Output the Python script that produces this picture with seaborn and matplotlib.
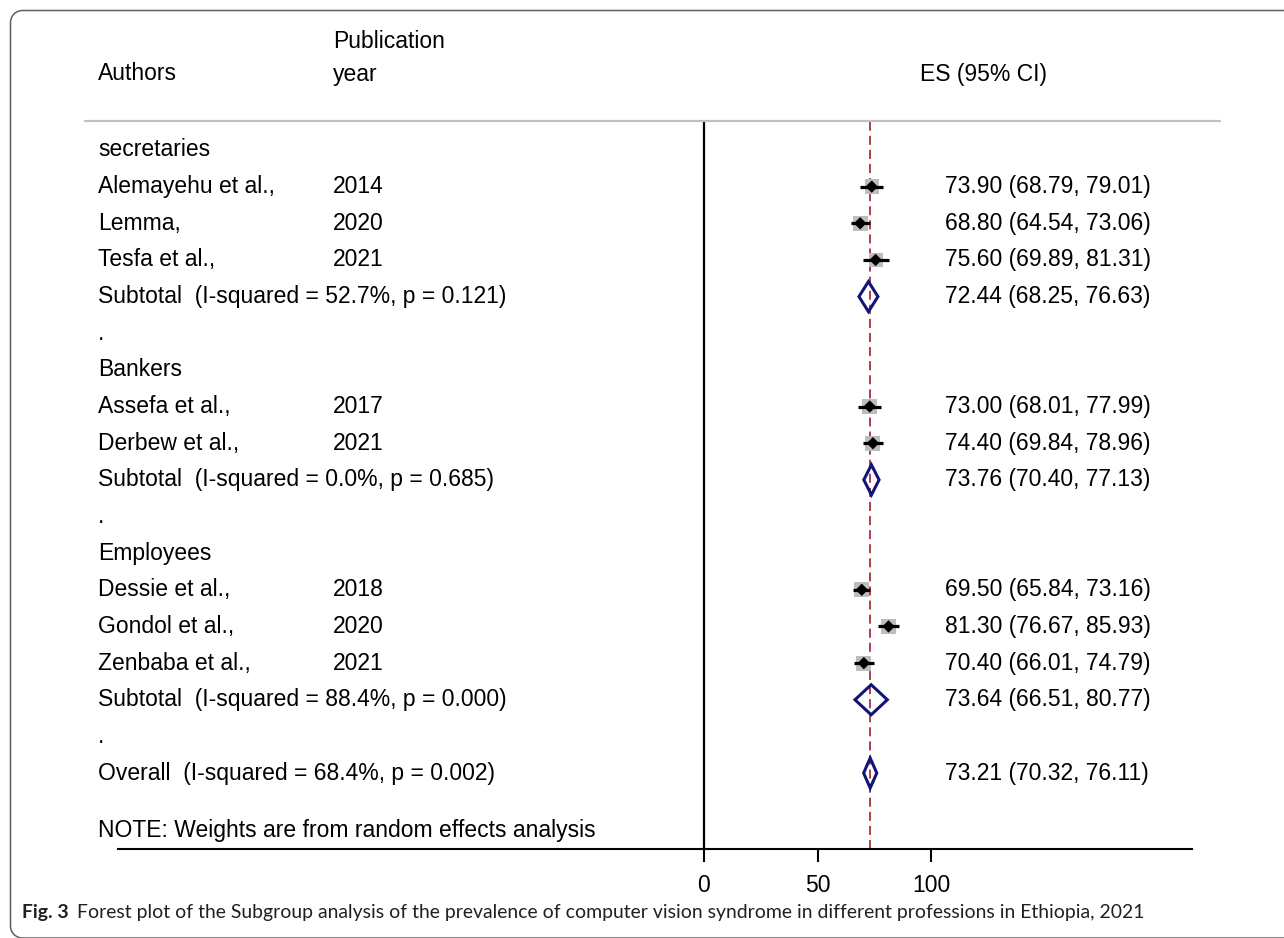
import numpy as np
import pandas as pd
import matplotlib
matplotlib.use("Agg")
import matplotlib.pyplot as plt
import matplotlib.transforms as mtransforms
from matplotlib.patches import Polygon, PathPatch
from matplotlib.path import Path
from matplotlib.lines import Line2D
import seaborn as sns

# ---- data ---------------------------------------------------------------
groups = ["secretaries", "Bankers", "Employees"]
study_group = [0, 0, 0, 1, 1, 2, 2, 2]
authors = ["Alemayehu et al.,", "Lemma,", "Tesfa et al.,",
           "Assefa et al.,", "Derbew et al.,",
           "Dessie et al.,", "Gondol et al.,", "Zenbaba et al.,"]
years = [2014, 2020, 2021, 2017, 2021, 2018, 2020, 2021]
es = [73.90, 68.80, 75.60, 73.00, 74.40, 69.50, 81.30, 70.40]
ci_low = [68.79, 64.54, 69.89, 68.01, 69.84, 65.84, 76.67, 66.01]
ci_high = [79.01, 73.06, 81.31, 77.99, 78.96, 73.16, 85.93, 74.79]
weights = [11.9, 12.9, 11.2, 12.3, 12.8, 13.3, 12.6, 13.0]

sub_i2 = [52.7, 0.0, 88.4]
sub_p = ["0.121", "0.685", "0.000"]
sub_es = [72.44, 73.76, 73.64]
sub_low = [68.25, 70.40, 66.51]
sub_high = [76.63, 77.13, 80.77]

overall_i2 = 68.4
overall_p = "0.002"
overall_es = 73.21
overall_low = 70.32
overall_high = 76.11

x_ticks = [0, 50, 100]

# ---- row layout -----------------------------------------------------------
rows = []  # (kind, index)
for g in range(len(groups)):
    rows.append(("group", g))
    for i, sg in enumerate(study_group):
        if sg == g:
            rows.append(("study", i))
    rows.append(("subtotal", g))
    rows.append(("dot", g))
rows.append(("overall", 0))

study_y = np.zeros(len(es))
sub_y = np.zeros(len(groups))
overall_y = 0.0
for r, (kind, idx) in enumerate(rows):
    if kind == "study":
        study_y[idx] = r
    elif kind == "subtotal":
        sub_y[idx] = r
    elif kind == "overall":
        overall_y = r

studies = pd.DataFrame({"author": authors, "year": years, "es": es,
                        "lo": ci_low, "hi": ci_high, "w": weights,
                        "y": study_y})

# ---- figure ---------------------------------------------------------------
W, H = 1284, 938
sns.set_theme(style="white")
plt.rcParams["font.family"] = ["Liberation Sans", "DejaVu Sans"]
fig = plt.figure(figsize=(W / 100, H / 100), dpi=100)
fig.patch.set_facecolor("white")

ax_l, ax_r, ax_t, ax_b = 118, 1192, 121, 849
ax = fig.add_axes([ax_l / W, 1 - ax_b / H, (ax_r - ax_l) / W, (ax_b - ax_t) / H])
ax.set_facecolor("none")

px_per_unit = 2.27
x0_px = 704
ax.set_xlim((ax_l - x0_px) / px_per_unit, (ax_r - x0_px) / px_per_unit)
row0_px, row_step = 150, 36.65
ax.set_ylim((ax_b - row0_px) / row_step, (ax_t - row0_px) / row_step)

for s in ["top", "right", "left"]:
    ax.spines[s].set_visible(False)
ax.spines["bottom"].set_color("black")
ax.spines["bottom"].set_linewidth(1.5)
ax.set_yticks([])
ax.set_xticks(x_ticks)
ax.tick_params(axis="x", bottom=True, direction="out", length=9, width=1.5,
               color="black", labelsize=16.5, labelcolor="black", pad=9)
ax.grid(False)

# null line and overall estimate line
ax.axvline(0, color="black", lw=1.6, zorder=2)
ax.axvline(overall_es, color="#a5323c", lw=1.3, ls=(0, (5, 2.8)), zorder=1)

# study weights (gray squares), confidence intervals, point estimates
sns.scatterplot(data=studies, x="es", y="y", marker="s", s=studies["w"] * 9.0,
                color="#bdbdbd", edgecolor="none", ax=ax, legend=False, zorder=3)
ax.hlines(studies["y"], studies["lo"], studies["hi"], color="black", lw=2.3,
          zorder=4)
sns.scatterplot(data=studies, x="es", y="y", marker="D", s=40, color="black",
                edgecolor="none", ax=ax, legend=False, zorder=5)

# pooled estimates drawn as diamonds
half_h = 0.41
def diamond(est, lo, hi, y):
    pts = [(lo, y), (est, y - half_h), (hi, y), (est, y + half_h)]
    ax.add_patch(Polygon(pts, closed=True, fill=False, edgecolor="#141478",
                         lw=2.2, joinstyle="miter", zorder=4))

for g in range(len(groups)):
    diamond(sub_es[g], sub_low[g], sub_high[g], sub_y[g])
diamond(overall_es, overall_low, overall_high, overall_y)
ax.set_xlabel("")
ax.set_ylabel("")

# ---- text columns -----------------------------------------------------------
trans = mtransforms.blended_transform_factory(fig.transFigure, ax.transData)
col_author, col_year, col_es = 98 / W, 333 / W, 945 / W
fs = 16.5
tkw = dict(transform=trans, fontsize=fs, color="black", va="center",
           ha="left", clip_on=False)

def fmt_ci(e, lo, hi):
    return f"{e:.2f} ({lo:.2f}, {hi:.2f})"

for r, (kind, idx) in enumerate(rows):
    if kind == "group":
        ax.text(col_author, r, groups[idx], **tkw)
    elif kind == "study":
        ax.text(col_author, r, authors[idx], **tkw)
        ax.text(col_year, r, str(years[idx]), **tkw)
        ax.text(col_es, r, fmt_ci(es[idx], ci_low[idx], ci_high[idx]), **tkw)
    elif kind == "subtotal":
        ax.text(col_author, r,
                f"Subtotal  (I-squared = {sub_i2[idx]:.1f}%, p = {sub_p[idx]})",
                **tkw)
        ax.text(col_es, r, fmt_ci(sub_es[idx], sub_low[idx], sub_high[idx]), **tkw)
    elif kind == "dot":
        ax.text(col_author, r, ".", **tkw)
    elif kind == "overall":
        ax.text(col_author, r,
                f"Overall  (I-squared = {overall_i2:.1f}%, p = {overall_p})",
                **tkw)
        ax.text(col_es, r, fmt_ci(overall_es, overall_low, overall_high), **tkw)

note_y = (830 - row0_px) / row_step
ax.text(col_author, note_y, "NOTE: Weights are from random effects analysis", **tkw)

# header
hdr = lambda px: (px - row0_px) / row_step
ax.text(col_year, hdr(41), "Publication", **tkw)
ax.text(col_author, hdr(74), "Authors", **tkw)
ax.text(col_year, hdr(74), "year", **tkw)
ax.text(920 / W, hdr(74), "ES (95% CI)", **tkw)

# header rule
fig.add_artist(Line2D([85 / W, 1220 / W], [1 - 121 / H, 1 - 121 / H],
                      transform=fig.transFigure, color="#c0c0c0", lw=1.6))

# panel frame: open on the right, rounded corners on the left (pixel coords)
r_c = 12
x_left, y_top, y_bot = 10.5, H - 10.5, H - 938.0
k = 0.5523 * r_c
verts = [(W + 20, y_top), (x_left + r_c, y_top),
         (x_left + r_c - k, y_top), (x_left, y_top - r_c + k), (x_left, y_top - r_c),
         (x_left, y_bot + r_c),
         (x_left, y_bot + r_c - k), (x_left + r_c - k, y_bot), (x_left + r_c, y_bot),
         (W + 20, y_bot)]
codes = [Path.MOVETO, Path.LINETO,
         Path.CURVE4, Path.CURVE4, Path.CURVE4,
         Path.LINETO,
         Path.CURVE4, Path.CURVE4, Path.CURVE4,
         Path.LINETO]
fig.add_artist(PathPatch(Path(verts, codes), transform=mtransforms.IdentityTransform(),
                         fill=False, edgecolor="#606060", lw=1.1))

# ---- caption ------------------------------------------------------------------
cap_bold = "Fig. 3"
cap_rest = ("Forest plot of the Subgroup analysis of the prevalence of computer "
            "vision syndrome in different professions in Ethiopia, 2021")
cap_family = ["Lato", "DejaVu Sans"]
cap_y = 1 - 912 / H
renderer = fig.canvas.get_renderer()
cfs = 12
t1 = fig.text(22 / W, cap_y, cap_bold, fontsize=cfs, fontweight="bold",
              family=cap_family, va="center", ha="left", color="#231f20")
bb = t1.get_window_extent(renderer)
t2 = fig.text((bb.x1 + 8) / W, cap_y, cap_rest, fontsize=cfs, family=cap_family,
              va="center", ha="left", color="#231f20")
bb2 = t2.get_window_extent(renderer)
scale = (1140 - 22) / (bb2.x1 - 22)
cfs *= scale
t1.set_fontsize(cfs)
bb = t1.get_window_extent(renderer)
t2.set_fontsize(cfs)
t2.set_x((bb.x1 + 8) / W)

fig.savefig("out.png", dpi=100, facecolor="white")
